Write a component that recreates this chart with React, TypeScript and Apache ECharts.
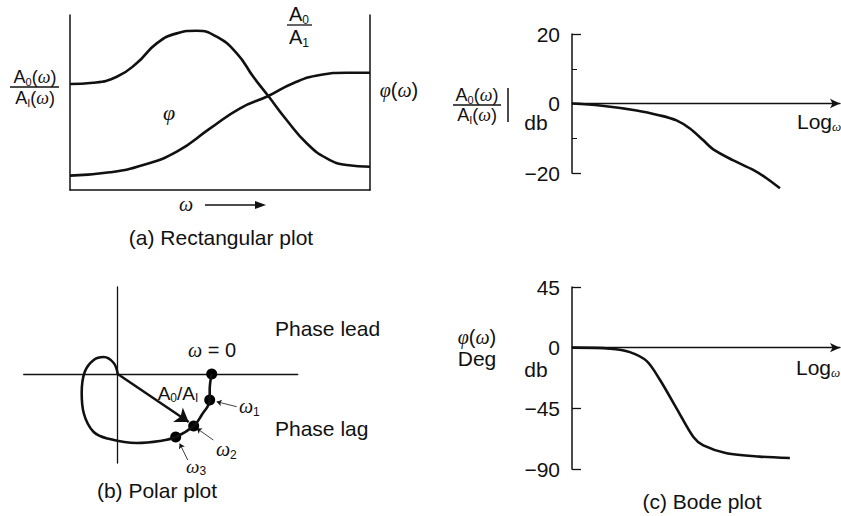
import React, { useEffect, useRef } from "react";
import * as echarts from "echarts";

// ---------- data ----------
// (a) rectangular plot, arbitrary units (omega 0..10, value 0..10)
const rectAmpOmega = [0, 0.77, 1.56, 2.22, 2.89, 3.56, 4.22, 4.89, 5.56, 6.11, 6.61, 7.22, 7.89, 8.56, 9.22, 10];
const rectAmp = [6.06, 6.13, 6.47, 7.24, 8.38, 8.95, 9.1, 8.76, 7.81, 6.47, 5.37, 4.0, 2.67, 1.81, 1.43, 1.33];
const rectPhiOmega = [0, 1.33, 2.44, 3.56, 4.67, 5.67, 6.61, 7.44, 8.33, 9.22, 10];
const rectPhi = [0.82, 1.01, 1.43, 2.19, 3.52, 4.67, 5.37, 6.1, 6.57, 6.7, 6.7];

// (b) polar plot (real, imaginary)
const polarRe = [9.4, 9.2, 9.2, 8.4, 7.6, 5.8, 4.2, 1.9, -0.8, -2.4, -3.4, -3.6, -3.3, -2.4, -1.4, -0.4, 0];
const polarIm = [0, -1.6, -2.6, -4.1, -5.2, -6.3, -6.7, -6.9, -6.5, -5.8, -3.9, -1.9, 0.2, 1.4, 1.7, 1.1, 0];
const markerNames = ["ω = 0", "ω1", "ω2", "ω3"];
const markerRe = [9.4, 9.2, 7.6, 5.8];
const markerIm = [0, -2.6, -5.2, -6.3];
const vectorTip = [7.1, -4.8];
const leaderFrom = [[11.9, -3.27], [9.56, -6.6], [7.0, -8.6]];
const leaderTo = [[9.9, -2.77], [7.9, -5.43], [6.2, -6.95]];

// (c) Bode plot
const magLogW = [0, 1.04, 2.41, 3.28, 3.9, 4.4, 4.9, 5.27, 6.0, 6.76, 7.26, 7.76];
const magDb = [0, -0.57, -2.0, -3.43, -4.86, -7.2, -10.6, -13.2, -16.3, -19.1, -21.5, -24.4];
const phaseLogW = [0, 1.42, 2.16, 2.79, 3.28, 3.9, 4.53, 4.9, 5.77, 7.0, 8.13];
const phaseDeg = [0, -0.75, -3.3, -10, -23.8, -45, -66.3, -72.5, -78.3, -80.8, -81.8];
const magTicks = [-20, 0, 20];
const phaseTicks = [-90, -45, 0, 45];

const INK = "#111";
const FONT = "'Liberation Sans', Arial, Helvetica, sans-serif";
const SERIF = "'Liberation Serif', 'DejaVu Serif', serif";

const zip = (a: number[], b: number[]) => a.map((v, i) => [v, b[i]]);
const fmtNum = (v: number) => (v < 0 ? "−" + Math.abs(v) : String(v));

const rich = (size: number) => ({
  s: { fontSize: Math.round(size * 0.62), lineHeight: Math.round(size * 0.7), verticalAlign: "bottom", fontFamily: FONT, fill: INK },
  w: { fontSize: size, fontStyle: "italic", fontFamily: SERIF, fill: INK },
  ws: { fontSize: Math.round(size * 0.62), lineHeight: Math.round(size * 0.7), verticalAlign: "bottom", fontStyle: "italic", fontFamily: SERIF, fill: INK },
});

const txt = (text: string, x: number, y: number, size = 20, align = "center", extra: any = {}) => ({
  type: "text",
  x,
  y,
  style: {
    text,
    fill: INK,
    fontSize: size,
    fontFamily: FONT,
    lineHeight: Math.round(size * 1.15),
    align,
    verticalAlign: "middle",
    rich: rich(size),
    ...extra,
  },
});

const seg = (x1: number, y1: number, x2: number, y2: number, w = 1.3) => ({
  type: "line",
  shape: { x1, y1, x2, y2 },
  style: { stroke: INK, lineWidth: w },
});

const hideAxis = {
  axisTick: { show: false },
  axisLabel: { show: false },
  splitLine: { show: false },
};

const curveStyle = { color: INK, width: 2.6 };

export default function App() {
  const ref = useRef<HTMLDivElement>(null);

  useEffect(() => {
    if (!ref.current) return;
    const chart = echarts.init(ref.current, undefined, { renderer: "svg" });

    const gridBase = { containLabel: false, outerBoundsMode: "none" };

    const option: any = {
      animation: false,
      backgroundColor: "#fff",
      grid: [
        { ...gridBase, left: 70, top: 15, width: 300, height: 175 },
        { ...gridBase, left: 23.7, top: 287, width: 274, height: 176 },
        { ...gridBase, left: 572, top: 34, width: 268, height: 139 },
        { ...gridBase, left: 572, top: 287, width: 268, height: 182 },
      ],
      xAxis: [
        {
          gridIndex: 0, type: "value", min: 0, max: 10,
          axisLine: { show: true, onZero: false, lineStyle: { color: INK, width: 1.5 } },
          ...hideAxis,
        },
        {
          gridIndex: 1, type: "value", min: -9.4, max: 18,
          axisLine: { show: true, onZero: true, lineStyle: { color: INK, width: 1.3 } },
          ...hideAxis,
        },
        {
          gridIndex: 2, type: "value", min: 0, max: 10,
          axisLine: { show: true, onZero: true, symbol: ["none", "arrow"], symbolSize: [7, 10], lineStyle: { color: INK, width: 1.3 } },
          ...hideAxis,
        },
        {
          gridIndex: 3, type: "value", min: 0, max: 10,
          axisLine: { show: true, onZero: true, symbol: ["none", "arrow"], symbolSize: [7, 10], lineStyle: { color: INK, width: 1.3 } },
          ...hideAxis,
        },
      ],
      yAxis: [
        {
          gridIndex: 0, type: "value", min: 0, max: 10, position: "left",
          axisLine: { show: true, onZero: false, lineStyle: { color: INK, width: 1.5 } },
          ...hideAxis,
        },
        {
          gridIndex: 0, type: "value", min: 0, max: 10, position: "right",
          axisLine: { show: true, onZero: false, lineStyle: { color: INK, width: 1.5 } },
          ...hideAxis,
        },
        {
          gridIndex: 1, type: "value", min: -8.9, max: 8.7,
          axisLine: { show: true, onZero: true, lineStyle: { color: INK, width: 1.3 } },
          ...hideAxis,
        },
        {
          gridIndex: 2, type: "value", min: magTicks[0], max: magTicks[magTicks.length - 1], interval: 20,
          axisLine: { show: true, onZero: false, lineStyle: { color: INK, width: 1.5 } },
          axisTick: { show: true, inside: true, length: 9, lineStyle: { color: INK, width: 1.3 } },
          minorTick: { show: true, splitNumber: 2, length: 5, lineStyle: { color: INK, width: 1 } },
          axisLabel: { show: true, margin: 12, color: INK, fontSize: 21, fontFamily: FONT, formatter: fmtNum },
          splitLine: { show: false },
        },
        {
          gridIndex: 3, type: "value", min: phaseTicks[0], max: phaseTicks[phaseTicks.length - 1], interval: 45,
          axisLine: { show: true, onZero: false, lineStyle: { color: INK, width: 1.5 } },
          axisTick: { show: true, inside: true, length: 9, lineStyle: { color: INK, width: 1.3 } },
          axisLabel: { show: true, margin: 12, color: INK, fontSize: 21, fontFamily: FONT, formatter: fmtNum },
          splitLine: { show: false },
        },
      ],
      series: [
        {
          name: "A0/AI", type: "line", xAxisIndex: 0, yAxisIndex: 0,
          data: zip(rectAmpOmega, rectAmp), smooth: true, showSymbol: false, lineStyle: curveStyle,
        },
        {
          name: "φ", type: "line", xAxisIndex: 0, yAxisIndex: 0,
          data: zip(rectPhiOmega, rectPhi), smooth: true, showSymbol: false, lineStyle: curveStyle,
        },
        {
          name: "polar", type: "line", xAxisIndex: 1, yAxisIndex: 2,
          data: zip(polarRe, polarIm), smooth: 0.4, showSymbol: false, lineStyle: curveStyle,
        },
        {
          name: "vector", type: "lines", coordinateSystem: "cartesian2d", xAxisIndex: 1, yAxisIndex: 2,
          data: [{ coords: [[0, 0], vectorTip] }],
          symbol: ["none", "arrow"], symbolSize: [0, 13],
          lineStyle: { color: INK, width: 2.4, opacity: 1 },
        },
        {
          name: "leaders", type: "lines", coordinateSystem: "cartesian2d", xAxisIndex: 1, yAxisIndex: 2,
          data: leaderFrom.map((f, i) => ({ coords: [f, leaderTo[i]] })),
          symbol: ["none", "arrow"], symbolSize: [0, 5],
          lineStyle: { color: INK, width: 0.8, opacity: 1 },
        },
        {
          name: "frequencies", type: "scatter", xAxisIndex: 1, yAxisIndex: 2,
          data: markerNames.map((n, i) => ({ name: n, value: [markerRe[i], markerIm[i]] })),
          symbolSize: 11, itemStyle: { color: "#000", opacity: 1 },
        },
        {
          name: "magnitude", type: "line", xAxisIndex: 2, yAxisIndex: 3, clip: false,
          data: zip(magLogW, magDb), smooth: 0.3, showSymbol: false, lineStyle: curveStyle,
        },
        {
          name: "phase", type: "line", xAxisIndex: 3, yAxisIndex: 4, clip: false,
          data: zip(phaseLogW, phaseDeg), smooth: 0.3, showSymbol: false, lineStyle: curveStyle,
        },
      ],
      graphic: [
        // (a)
        txt("A{s|0}({w|ω})", 35, 77, 18),
        seg(10, 87, 59, 87),
        txt("A{s|I}({w|ω})", 35, 98, 18),
        txt("A{s|0}", 299, 14, 20),
        seg(287, 25, 312, 25),
        txt("A{s|1}", 299, 37, 20),
        txt("{w|φ}({w|ω})", 399, 90, 20),
        txt("{w|φ}", 169, 112, 22),
        txt("{w|ω}", 186, 204, 20),
        seg(205, 205, 258, 205, 1.4),
        { type: "polygon", shape: { points: [[266, 205], [255, 201], [255, 209]] }, style: { fill: INK } },
        txt("(a) Rectangular plot", 221, 237, 21),
        // (b)
        txt("Phase lead", 275, 328, 21, "left"),
        txt("{w|ω} = 0", 212, 350, 20),
        txt("A{s|0}/A{s|I}", 178, 393, 19),
        txt("{w|ω}{s|1}", 239, 406, 20, "left"),
        txt("Phase lag", 275, 428, 21, "left"),
        txt("{w|ω}{s|2}", 216, 449, 20, "left"),
        txt("{w|ω}{s|3}", 186, 466, 19, "left"),
        txt("(b) Polar plot", 157, 490, 21),
        // (c) magnitude
        txt("A{s|0}({w|ω})", 477, 95, 18),
        seg(453, 105, 501, 105),
        txt("A{s|I}({w|ω})", 477, 115, 18),
        seg(508, 88, 508, 122, 1.5),
        txt("db", 536, 122, 21),
        txt("Log{ws|ω}", 797, 121, 21, "left"),
        // (c) phase
        txt("{w|φ}({w|ω})", 477, 337, 20),
        txt("Deg", 477, 358, 21),
        txt("db", 536, 369, 21),
        txt("Log{ws|ω}", 796, 367, 21, "left"),
        txt("(c) Bode plot", 702, 501, 21),
      ],
    };

    chart.setOption(option);
    return () => chart.dispose();
  }, []);

  return (
    <div
      ref={ref}
      style={{ position: "fixed", left: 0, top: 0, width: 841, height: 516, background: "#fff" }}
    />
  );
}
